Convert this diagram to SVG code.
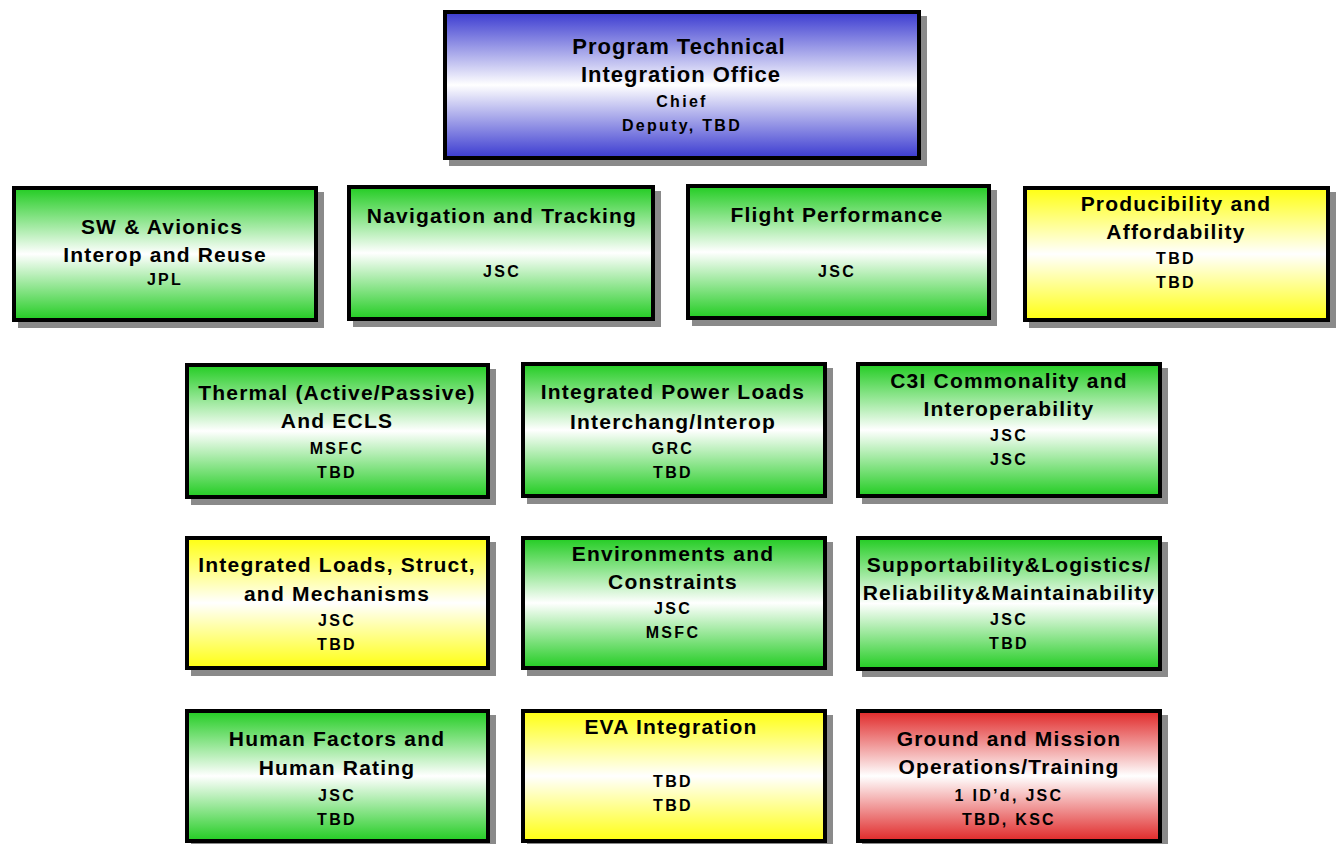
<svg xmlns="http://www.w3.org/2000/svg" width="1336" height="844" viewBox="0 0 1336 844">
  <style>
    .box { stroke: #000; stroke-width: 4; }
    .shadow { fill: #8a8a8a; }
    .t { font-family: "Liberation Sans", Arial, sans-serif; font-weight: bold; font-size: 21px; text-anchor: middle; fill: #000; letter-spacing: 1.2px; }
    .tt { font-family: "Liberation Sans", Arial, sans-serif; font-weight: bold; font-size: 22px; text-anchor: middle; fill: #000; letter-spacing: 1px; }
    .s { font-family: "Liberation Sans", Arial, sans-serif; font-weight: bold; font-size: 16px; text-anchor: middle; fill: #000; letter-spacing: 2.3px; }
    .green { fill: url(#gGreen); }
    .yellow { fill: url(#gYellow); }
    .blue { fill: url(#gBlue); }
    .red { fill: url(#gRed); }
  </style>
  <defs>
    <linearGradient id="gGreen" x1="0" y1="0" x2="0" y2="1">
      <stop offset="0" stop-color="#22cc22"/>
      <stop offset="0.5" stop-color="#ffffff"/>
      <stop offset="1" stop-color="#22cc22"/>
    </linearGradient>
    <linearGradient id="gYellow" x1="0" y1="0" x2="0" y2="1">
      <stop offset="0" stop-color="#ffff10"/>
      <stop offset="0.5" stop-color="#ffffff"/>
      <stop offset="1" stop-color="#ffff10"/>
    </linearGradient>
    <linearGradient id="gBlue" x1="0" y1="0" x2="0" y2="1">
      <stop offset="0" stop-color="#3a3ad0"/>
      <stop offset="0.5" stop-color="#ffffff"/>
      <stop offset="1" stop-color="#3a3ad0"/>
    </linearGradient>
    <linearGradient id="gRed" x1="0" y1="0" x2="0" y2="1">
      <stop offset="0" stop-color="#e02828"/>
      <stop offset="0.5" stop-color="#ffffff"/>
      <stop offset="1" stop-color="#e02828"/>
    </linearGradient>
  </defs>

  <rect width="1336" height="844" fill="#ffffff"/>

  <g id="program-office">
    <rect class="shadow" x="449" y="16" width="478" height="150"/>
    <rect class="box blue" x="445" y="12" width="474" height="146"/>
    <text class="tt" x="679" y="54">Program Technical</text>
    <text class="tt" x="681" y="82">Integration Office</text>
    <text class="s" x="682" y="107" letter-spacing="1.3">Chief</text>
    <text class="s" x="682" y="131" letter-spacing="1.3">Deputy, TBD</text>
  </g>

  <g id="sw-avionics">
    <rect class="shadow" x="18" y="192" width="306" height="136"/>
    <rect class="box green" x="14" y="188" width="302" height="132"/>
    <text class="t" x="162" y="234">SW &amp; Avionics</text>
    <text class="t" x="165" y="262">Interop and Reuse</text>
    <text class="s" x="165" y="285" letter-spacing="1" font-weight="normal">JPL</text>
  </g>

  <g id="navigation">
    <rect class="shadow" x="353" y="191" width="308" height="136"/>
    <rect class="box green" x="349" y="187" width="304" height="132"/>
    <text class="t" x="502" y="223">Navigation and Tracking</text>
    <text class="s" x="502" y="277">JSC</text>
  </g>

  <g id="flight-performance">
    <rect class="shadow" x="692" y="190" width="305" height="136"/>
    <rect class="box green" x="688" y="186" width="301" height="132"/>
    <text class="t" x="837" y="222">Flight Performance</text>
    <text class="s" x="837" y="277">JSC</text>
  </g>

  <g id="producibility">
    <rect class="shadow" x="1029" y="192" width="307" height="136"/>
    <rect class="box yellow" x="1025" y="188" width="303" height="132"/>
    <text class="t" x="1176" y="211">Producibility and</text>
    <text class="t" x="1176" y="239">Affordability</text>
    <text class="s" x="1176" y="264">TBD</text>
    <text class="s" x="1176" y="288">TBD</text>
  </g>

  <g id="thermal">
    <rect class="shadow" x="191" y="369" width="305" height="136"/>
    <rect class="box green" x="187" y="365" width="301" height="132"/>
    <text class="t" x="337" y="400" letter-spacing="0.6">Thermal (Active/Passive)</text>
    <text class="t" x="337" y="428">And ECLS</text>
    <text class="s" x="337" y="454">MSFC</text>
    <text class="s" x="337" y="478">TBD</text>
  </g>

  <g id="power-loads">
    <rect class="shadow" x="527" y="368" width="306" height="136"/>
    <rect class="box green" x="523" y="364" width="302" height="132"/>
    <text class="t" x="673" y="399">Integrated Power Loads</text>
    <text class="t" x="673" y="429">Interchang/Interop</text>
    <text class="s" x="673" y="454">GRC</text>
    <text class="s" x="673" y="478">TBD</text>
  </g>

  <g id="c3i">
    <rect class="shadow" x="862" y="368" width="306" height="136"/>
    <rect class="box green" x="858" y="364" width="302" height="132"/>
    <text class="t" x="1009" y="388">C3I Commonality and</text>
    <text class="t" x="1009" y="416">Interoperability</text>
    <text class="s" x="1009" y="441">JSC</text>
    <text class="s" x="1009" y="465">JSC</text>
  </g>

  <g id="loads-structures">
    <rect class="shadow" x="191" y="542" width="305" height="134"/>
    <rect class="box yellow" x="187" y="538" width="301" height="130"/>
    <text class="t" x="337" y="572" letter-spacing="0.8">Integrated Loads, Struct,</text>
    <text class="t" x="337" y="601">and Mechanisms</text>
    <text class="s" x="337" y="626">JSC</text>
    <text class="s" x="337" y="650">TBD</text>
  </g>

  <g id="environments">
    <rect class="shadow" x="527" y="542" width="306" height="134"/>
    <rect class="box green" x="523" y="538" width="302" height="130"/>
    <text class="t" x="673" y="561">Environments and</text>
    <text class="t" x="673" y="589">Constraints</text>
    <text class="s" x="673" y="614">JSC</text>
    <text class="s" x="673" y="638">MSFC</text>
  </g>

  <g id="supportability">
    <rect class="shadow" x="862" y="542" width="306" height="135"/>
    <rect class="box green" x="858" y="538" width="302" height="131"/>
    <text class="t" x="1009" y="572" letter-spacing="0.8">Supportability&amp;Logistics/</text>
    <text class="t" x="1009" y="600" letter-spacing="0.8">Reliability&amp;Maintainability</text>
    <text class="s" x="1009" y="625">JSC</text>
    <text class="s" x="1009" y="649">TBD</text>
  </g>

  <g id="human-factors">
    <rect class="shadow" x="191" y="715" width="305" height="134"/>
    <rect class="box green" x="187" y="711" width="301" height="130"/>
    <text class="t" x="337" y="746">Human Factors and</text>
    <text class="t" x="337" y="775">Human Rating</text>
    <text class="s" x="337" y="801">JSC</text>
    <text class="s" x="337" y="825">TBD</text>
  </g>

  <g id="eva">
    <rect class="shadow" x="527" y="715" width="306" height="134"/>
    <rect class="box yellow" x="523" y="711" width="302" height="130"/>
    <text class="t" x="671" y="734">EVA Integration</text>
    <text class="s" x="673" y="787">TBD</text>
    <text class="s" x="673" y="811">TBD</text>
  </g>

  <g id="ground-mission">
    <rect class="shadow" x="862" y="715" width="306" height="134"/>
    <rect class="box red" x="858" y="711" width="302" height="130"/>
    <text class="t" x="1009" y="746">Ground and Mission</text>
    <text class="t" x="1009" y="774">Operations/Training</text>
    <text class="s" x="1009" y="801">1 ID’d, JSC</text>
    <text class="s" x="1009" y="825">TBD, KSC</text>
  </g>

  <g id="connectors"></g>
</svg>
